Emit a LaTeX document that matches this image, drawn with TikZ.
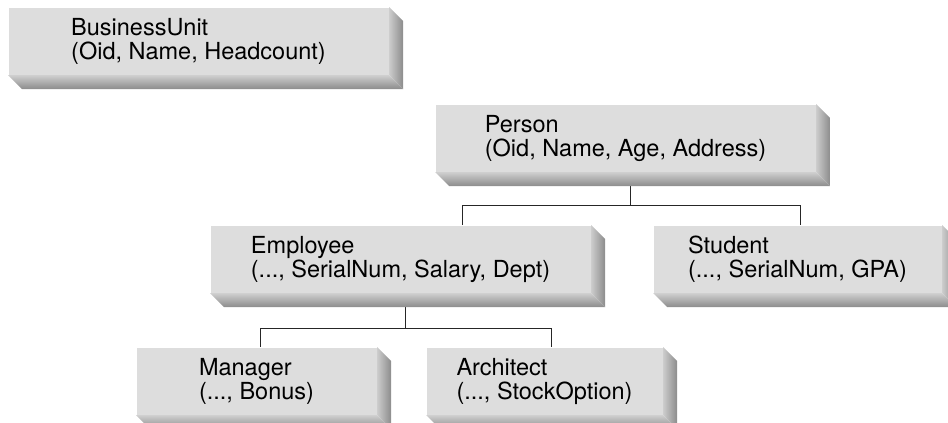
\documentclass[tikz,border=0pt]{standalone}
\usepackage{fontspec}
\setmainfont{TeX Gyre Heros}
\usetikzlibrary{positioning,backgrounds}

\definecolor{facegray}{RGB}{221,221,221}
\definecolor{bevlight}{RGB}{205,205,205}
\definecolor{bevdark}{RGB}{140,140,140}

\tikzstyle{every path}+=[line width=1pt]
\tikzstyle{unit}=[rectangle,fill=facegray,inner sep=0pt,minimum height=67,align=left,
  font=\fontsize{23.5}{24}\selectfont,execute at begin node={\rule{0pt}{22pt}}]
\tikzstyle{bevel right}=[left color=bevlight,right color=bevdark]
\tikzstyle{bevel bottom}=[top color=bevlight!95!white,bottom color=bevdark]
\tikzstyle{link}=[black!85,line width=1pt]

\begin{document}
\begin{tikzpicture}[x=1pt,y=-1pt]
\useasboundingbox (0,0) rectangle (948,423);

\node[unit,minimum width=380,anchor=north west] (bu) at (8,7) {BusinessUnit\\(Oid, Name, Headcount)};
\node[unit,minimum width=380,anchor=north west] (person) at (435,104) {Person\\(Oid, Name, Age, Address)};
\node[unit,minimum width=380,anchor=north west] (emp) at (210,225) {Employee\\(..., SerialNum, Salary, Dept)};
\node[unit,minimum width=288,right=62 of emp] (stu) {Student\\(..., SerialNum, GPA)};
\node[unit,minimum width=240,anchor=north west] (mgr) at (136,347) {Manager\\(..., Bonus)};
\node[unit,minimum width=236,right=49 of mgr] (arc) {Architect\\(..., StockOption)};

% raised edges
\foreach \n in {bu,person,emp,stu,mgr,arc} {
  \shade[bevel right] (\n.north east) -- ([shift={(14,14)}]\n.north east)
    -- ([shift={(14,14)}]\n.south east) -- (\n.south east) -- cycle;
  \shade[bevel bottom] (\n.south west) -- (\n.south east)
    -- ([shift={(14,14)}]\n.south east) -- ([shift={(14,14)}]\n.south west) -- cycle;
}

% tree links
\begin{scope}[on background layer]
\draw[link] ([xshift=5]person.south) -- ++(0,33) coordinate (pj);
\draw[link] (pj) -| ([xshift=62]emp.north);
\draw[link] (pj) -| ([xshift=3]stu.north);
\draw[link] ([xshift=5]emp.south) -- ++(0,35) coordinate (ej);
\draw[link] (ej) -| ([xshift=4]mgr.north);
\draw[link] (ej) -| ([xshift=7]arc.north);
\end{scope}
\end{tikzpicture}
\end{document}
